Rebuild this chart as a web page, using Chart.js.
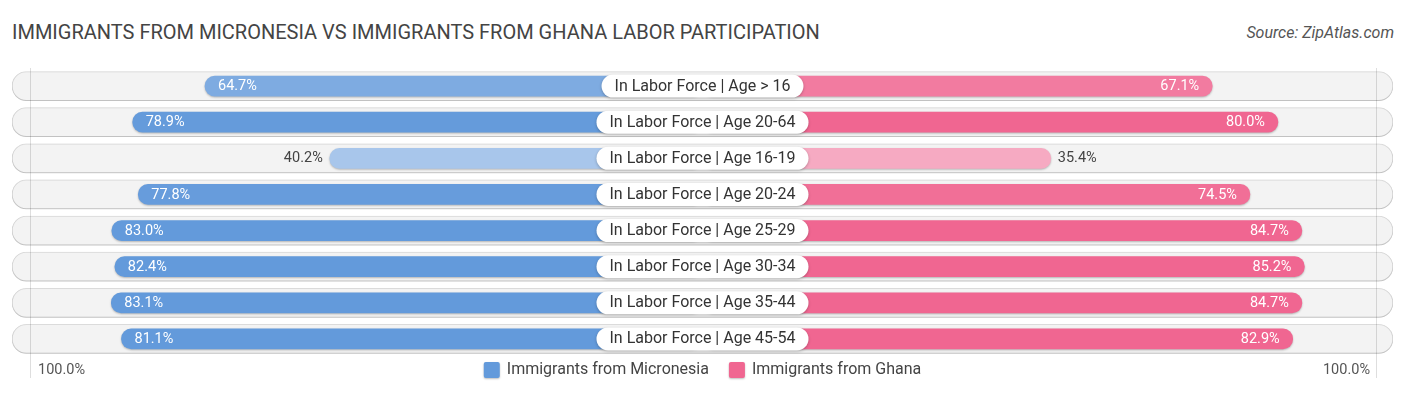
<!DOCTYPE html>
<html>
<head>
<meta charset="utf-8">
<script src="https://cdn.jsdelivr.net/npm/chart.js@4.4.1/dist/chart.umd.min.js"></script>
<style>
  html, body { margin: 0; padding: 0; background: #fff; }
  #wrap { position: relative; width: 1406px; height: 395px; }
  #title { position: absolute; left: 12px; top: 20px; font: 20px Roboto, sans-serif; color: #444; white-space: nowrap; }
  #source { position: absolute; right: 12px; top: 23px; font: italic 16px Roboto, sans-serif; color: #555; }
  canvas { position: absolute; left: 0; top: 0; }
</style>
</head>
<body>
<div id="wrap">
  <div id="title">IMMIGRANTS FROM MICRONESIA VS IMMIGRANTS FROM GHANA LABOR PARTICIPATION</div>
  <div id="source">Source: ZipAtlas.com</div>
  <canvas id="chart" width="1406" height="395"></canvas>
</div>
<script>
// data
const categories = [
  "In Labor Force | Age > 16", "In Labor Force | Age 20-64", "In Labor Force | Age 16-19",
  "In Labor Force | Age 20-24", "In Labor Force | Age 25-29", "In Labor Force | Age 30-34",
  "In Labor Force | Age 35-44", "In Labor Force | Age 45-54"
];
const micronesia = [64.7, 78.9, 40.2, 77.8, 83.0, 82.4, 83.1, 81.1];
const ghana = [67.1, 80.0, 35.4, 74.5, 84.7, 85.2, 84.7, 82.9];
const seriesNames = ["Immigrants from Micronesia", "Immigrants from Ghana"];
const tickLabels = ["100.0%", "100.0%"];

// layout helpers (bars start behind the centre label)
const GAP = 33;      // room for the centre label, in % units
const LIMIT = 135.6; // half width of the background pill
const FONT = "Roboto, sans-serif";

function mix(a, b, t) {
    t = Math.max(0, Math.min(1, t));
    let r = Math.round(a[0] + (b[0] - a[0]) * t);
    let g = Math.round(a[1] + (b[1] - a[1]) * t);
    let bl = Math.round(a[2] + (b[2] - a[2]) * t);
    return `rgb(${r},${g},${bl})`;
}
const blueLight = [172, 200, 236], blueFull = [99, 154, 219];
const pinkLight = [246, 170, 194], pinkFull = [240, 102, 145];
function shade(light, full, v) { return mix(light, full, (v - 38) / 42); }

const decorPlugin = {
    id: "decor",
    beforeDatasetDraw(chart, args) {
        let ctx = chart.ctx;
        ctx.save();
        if (args.index === 2) {
            ctx.shadowColor = "rgba(0,0,0,0.22)";
            ctx.shadowBlur = 3;
            ctx.shadowOffsetY = 1;
        } else {
            ctx.shadowColor = "rgba(0,0,0,0.25)";
            ctx.shadowBlur = 2;
            ctx.shadowOffsetY = 1;
        }
    },
    afterDatasetDraw(chart) {
        chart.ctx.restore();
    },
    afterDatasetsDraw(chart) {
        let ctx = chart.ctx, a = chart.chartArea;
        let left = chart.getDatasetMeta(0).data;
        let right = chart.getDatasetMeta(1).data;
        let cx = chart.scales.x.getPixelForValue(0);
        ctx.save();

        // faint vertical guide lines
        ctx.strokeStyle = "rgba(0,0,0,0.13)";
        ctx.lineWidth = 1;
        [a.left + 18.5, a.right - 16.5].forEach(x => {
            ctx.beginPath();
            ctx.moveTo(x, a.top);
            ctx.lineTo(x, a.bottom + 21);
            ctx.stroke();
        });

        ctx.textBaseline = "middle";
        categories.forEach((cat, i) => {
            let y = left[i].y;
            // value labels
            ctx.font = "14.5px " + FONT;
            let lx = Math.min(left[i].x, left[i].base);
            if (micronesia[i] > 50) {
                ctx.fillStyle = "#fff";
                ctx.textAlign = "left";
                ctx.fillText(micronesia[i].toFixed(1) + "%", lx + 13, y + 0.5);
            } else {
                ctx.fillStyle = "#444";
                ctx.textAlign = "right";
                ctx.fillText(micronesia[i].toFixed(1) + "%", lx - 7, y + 0.5);
            }
            let rx = Math.max(right[i].x, right[i].base);
            if (ghana[i] > 50) {
                ctx.fillStyle = "#fff";
                ctx.textAlign = "right";
                ctx.fillText(ghana[i].toFixed(1) + "%", rx - 13, y + 0.5);
            } else {
                ctx.fillStyle = "#444";
                ctx.textAlign = "left";
                ctx.fillText(ghana[i].toFixed(1) + "%", rx + 7, y + 0.5);
            }

            // centre label box
            ctx.font = "16px " + FONT;
            let w = ctx.measureText(cat).width + 26;
            let h = 23;
            ctx.save();
            ctx.shadowColor = "rgba(0,0,0,0.25)";
            ctx.shadowBlur = 3;
            ctx.shadowOffsetY = 1;
            ctx.fillStyle = "#fff";
            ctx.beginPath();
            ctx.roundRect(cx - w / 2, y - h / 2, w, h, h / 2);
            ctx.fill();
            ctx.restore();
            ctx.fillStyle = "#333";
            ctx.textAlign = "center";
            ctx.fillText(cat, cx, y + 0.5);
        });

        // bottom row: tick labels and legend
        let ly = a.bottom + 13;
        ctx.font = "14.5px " + FONT;
        ctx.fillStyle = "#555";
        ctx.textAlign = "left";
        ctx.fillText(tickLabels[0], a.left + 26, ly);
        ctx.textAlign = "right";
        ctx.fillText(tickLabels[1], a.right - 23, ly);

        ctx.font = "16px " + FONT;
        let colors = [mix(blueFull, blueFull, 0), mix(pinkFull, pinkFull, 0)];
        let widths = seriesNames.map(n => 16 + 7 + ctx.measureText(n).width);
        let total = widths[0] + widths[1] + 20;
        let x = cx - total / 2;
        seriesNames.forEach((n, k) => {
            ctx.save();
            ctx.shadowColor = "rgba(0,0,0,0.25)";
            ctx.shadowBlur = 2;
            ctx.shadowOffsetY = 1;
            ctx.fillStyle = colors[k];
            ctx.beginPath();
            ctx.roundRect(x, ly - 8, 16, 16, 2);
            ctx.fill();
            ctx.restore();
            ctx.fillStyle = "#444";
            ctx.textAlign = "left";
            ctx.fillText(n, x + 23, ly);
            x += widths[k] + 20;
        });
        ctx.restore();
    }
};

let ctx = document.getElementById("chart").getContext("2d");
window.laborChart = new Chart(ctx, {
    type: "bar",
    data: {
        labels: categories,
        datasets: [
            {
                label: seriesNames[0],
                data: micronesia.map(v => [-(v + GAP), 0]),
                backgroundColor: c => shade(blueLight, blueFull, micronesia[c.dataIndex]),
                barThickness: 20,
                borderRadius: 10,
                borderSkipped: false,
                grouped: false,
                order: 1
            },
            {
                label: seriesNames[1],
                data: ghana.map(v => [0, v + GAP]),
                backgroundColor: c => shade(pinkLight, pinkFull, ghana[c.dataIndex]),
                barThickness: 20,
                borderRadius: 10,
                borderSkipped: false,
                grouped: false,
                order: 1
            },
            {
                label: "background",
                data: categories.map(() => [-LIMIT, LIMIT]),
                backgroundColor: "#f3f3f3",
                borderColor: "#e2e2e2",
                borderWidth: 1,
                barThickness: 29,
                borderRadius: 14.5,
                borderSkipped: false,
                grouped: false,
                order: 2
            }
        ]
    },
    options: {
        indexAxis: "y",
        responsive: false,
        animation: false,
        devicePixelRatio: 1,
        layout: { padding: { left: 12, right: 13, top: 68, bottom: 38 } },
        scales: {
            x: { display: false, min: -LIMIT, max: LIMIT },
            y: { display: false }
        },
        plugins: {
            legend: { display: false },
            tooltip: { enabled: false }
        }
    },
    plugins: [decorPlugin]
});
</script>
</body>
</html>
